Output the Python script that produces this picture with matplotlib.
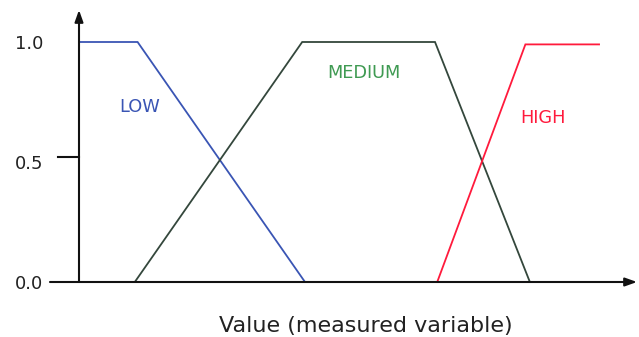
import matplotlib.pyplot as plt

# membership functions (x in arbitrary units 0..10, y = membership degree)
low_x = [0.0, 1.05, 4.05]
low_y = [1.0, 1.0, 0.0]
med_x = [1.0, 4.0, 6.38, 8.08]
med_y = [0.0, 1.0, 1.0, 0.0]
high_x = [6.42, 8.0, 9.32]
high_y = [0.0, 0.99, 0.99]

ytick_vals = [0.0, 0.5, 1.0]
ytick_labels = ["0.0", "0.5", "1.0"]

W, H = 639, 337
fig = plt.figure(figsize=(W / 100, H / 100), dpi=100)
# axes from origin (79, 282) to arrow tips (637, 10) in pixel coords
ax = fig.add_axes([79 / W, (H - 282) / H, (637 - 79) / W, (282 - 10) / H])
ax.set_xlim(0, 10)
ax.set_ylim(0, 272 / 240)

ax.plot(low_x, low_y, color="#3a55b4", lw=1.3, solid_joinstyle="miter")
ax.plot(med_x, med_y, color="#34473c", lw=1.3, solid_joinstyle="miter")
ax.plot(high_x, high_y, color="#ff1a3c", lw=1.3, solid_joinstyle="miter")

ax.text(0.73, 0.73, "LOW", color="#3a55b4", fontsize=12.8, ha="left", va="center")
ax.text(4.44, 0.872, "MEDIUM", color="#3f9a52", fontsize=12.8, ha="left", va="center")
ax.text(7.9, 0.685, "HIGH", color="#ff1a3c", fontsize=12.8, ha="left", va="center")

for s in ax.spines.values():
    s.set_visible(False)
ax.set_xticks([])
ax.set_yticks(ytick_vals)
ax.set_yticklabels(ytick_labels, fontsize=13, color="#222222")
ax.tick_params(axis="y", length=0, pad=26)

# axes with arrows
ax.annotate("", xy=(10.0, 0), xytext=(-0.52, 0), annotation_clip=False,
            arrowprops=dict(arrowstyle="-|>,head_length=0.7,head_width=0.25",
                            color="#111111", lw=1.5, shrinkA=0, shrinkB=0))
ax.annotate("", xy=(0, 272 / 240), xytext=(0, 0), annotation_clip=False,
            arrowprops=dict(arrowstyle="-|>,head_length=0.7,head_width=0.25",
                            color="#111111", lw=1.5, shrinkA=0, shrinkB=0))
ax.plot([-0.38, 0], [0.52, 0.52], color="#111111", lw=1.5, clip_on=False)

fig.text(366 / W, (H - 326) / H, "Value (measured variable)", fontsize=16,
         ha="center", va="center", color="#222222")

fig.savefig("out.png", dpi=100)
